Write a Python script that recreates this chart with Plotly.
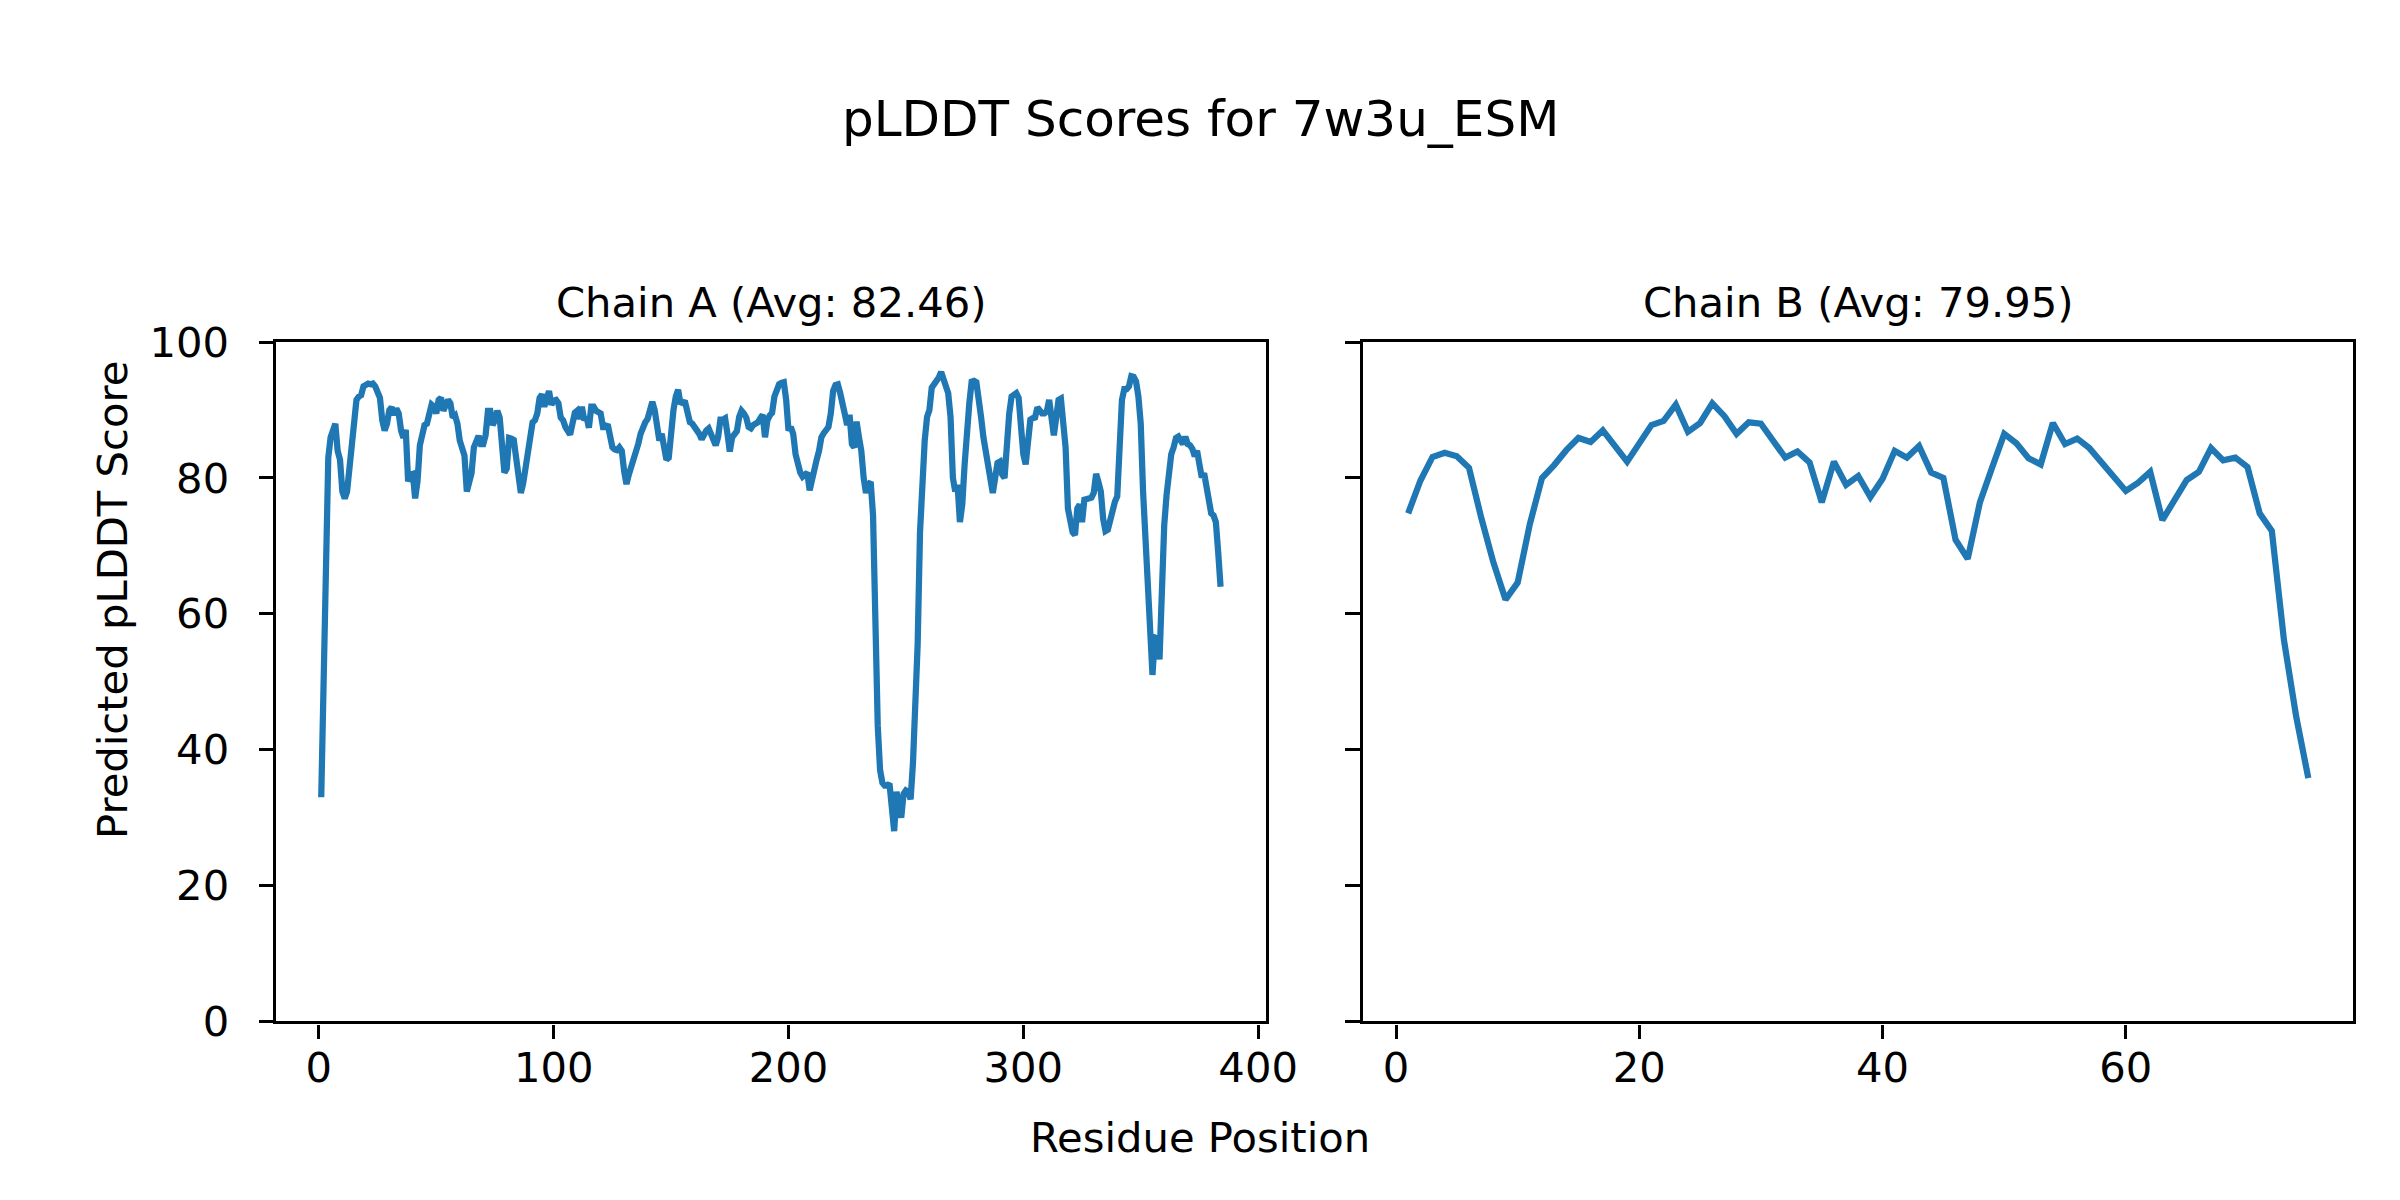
import plotly.graph_objects as go

# ---------------- data ----------------
chain_a_scores = [
    33.0, 51.0, 60.0, 83.0, 86.0, 87.5, 88.0, 84.0, 82.7, 78.0,
    77.0, 78.0, 82.0, 85.5, 87.5, 91.5, 92.0, 92.2, 93.5, 93.8,
    93.9, 93.8, 93.9, 93.5, 92.8, 91.8, 88.5, 87.0, 88.0, 90.0,
    90.4, 89.3, 90.2, 89.5, 87.0, 85.9, 87.1, 79.5, 80.5, 80.6,
    77.0, 79.5, 84.8, 86.2, 87.8, 88.0, 90.0, 90.8, 90.5, 89.5,
    91.5, 91.8, 89.9, 90.5, 91.5, 91.0, 88.9, 89.2, 88.0, 85.5,
    84.4, 83.3, 78.0, 80.0, 80.7, 84.5, 85.5, 86.2, 85.0, 85.0,
    86.3, 89.9, 89.9, 87.8, 88.5, 89.9, 88.9, 83.0, 80.8, 81.4,
    85.9, 85.8, 85.6, 83.0, 80.0, 77.8, 79.2, 81.5, 83.5, 86.0,
    88.2, 88.5, 89.5, 91.8, 92.3, 90.5, 92.0, 92.8, 90.8, 91.4,
    91.5, 91.0, 88.9, 88.5, 87.5, 86.9, 86.4, 88.0, 89.6, 89.9,
    88.7, 90.5, 88.5, 89.0, 87.4, 90.5, 90.5, 89.9, 89.7, 89.5,
    87.5, 87.5, 87.9, 85.8, 84.5, 84.2, 84.1, 84.5, 84.0, 81.0,
    79.1, 80.5, 81.5, 82.9, 83.3, 85.0, 86.5, 87.7, 88.2, 88.7,
    90.2, 91.2, 90.0, 87.5, 85.5, 86.5, 85.0, 82.7, 83.0, 87.0,
    90.0, 92.0, 93.0, 90.9, 91.2, 91.1, 90.0, 88.2, 88.0, 87.6,
    86.9, 86.5, 85.7, 86.5, 87.0, 87.3, 86.5, 85.9, 84.8, 86.0,
    88.6, 88.6, 88.8, 86.5, 83.9, 86.0, 86.5, 86.9, 89.0, 89.9,
    89.5, 88.9, 87.5, 87.3, 87.8, 88.0, 88.2, 88.8, 89.3, 86.0,
    88.5, 89.2, 89.6, 92.0, 93.3, 93.8, 94.0, 94.1, 91.5, 87.0,
    87.5, 86.5, 83.5, 81.5, 80.8, 80.2, 80.5, 80.8, 78.2, 80.0,
    81.5, 82.7, 84.0, 86.0, 86.6, 86.9, 87.5, 89.5, 92.8, 93.7,
    93.8, 92.5, 91.0, 89.8, 87.8, 89.3, 85.0, 84.5, 88.3, 86.0,
    84.0, 80.0, 77.8, 79.1, 79.4, 74.5, 57.2, 43.5, 37.0, 35.1,
    34.7, 34.7, 35.0, 31.0, 28.0, 33.8, 31.5, 30.0, 33.5, 34.0,
    33.8, 32.7, 38.0, 47.0, 55.5, 72.0, 82.0, 85.5, 89.0, 90.0,
    93.3, 93.8, 94.2, 94.8, 95.6, 94.6, 93.8, 92.5, 89.0, 80.0,
    78.0, 79.0, 73.5, 76.1, 82.0, 87.5, 91.0, 94.2, 94.3, 94.1,
    92.0, 89.0, 86.0, 84.0, 81.5, 79.5, 77.8, 80.0, 82.2, 82.4,
    80.5, 80.0, 86.0, 89.5, 92.0, 92.4, 92.5, 91.8, 86.5, 83.5,
    82.0, 84.6, 88.6, 88.8, 88.9, 90.4, 89.8, 89.5, 89.5, 89.8,
    91.5, 88.6, 86.3, 88.9, 91.5, 91.7, 89.0, 84.5, 75.5, 73.5,
    72.0, 71.6, 75.5, 76.1, 73.5, 76.8, 76.9, 77.0, 77.1, 77.8,
    80.6, 79.4, 78.0, 74.0, 72.2, 72.4, 73.8, 75.5, 76.5, 77.3,
    84.0, 91.5, 93.1, 93.1, 93.5, 95.0, 94.9, 94.2, 92.0, 88.0,
    78.0, 71.0, 62.0, 56.0, 51.0, 56.5, 56.3, 53.3, 65.0, 73.0,
    77.5, 81.0, 83.5, 84.5, 85.9, 86.1, 85.5, 85.0, 86.1, 85.0,
    84.8, 84.3, 83.2, 84.0, 82.0, 80.1, 80.7, 79.0, 76.5, 74.8,
    74.5, 73.5, 69.0, 64.0,
]

chain_b_scores = [
    74.8, 79.6, 83.1, 83.7, 83.2, 81.5, 74.2, 67.6, 62.1, 64.6,
    73.2, 80.0, 81.9, 84.1, 85.9, 85.3, 87.0, 84.8, 82.4, 85.1,
    87.8, 88.4, 90.8, 86.8, 88.1, 91.0, 89.1, 86.5, 88.2, 88.0,
    85.4, 83.0, 83.9, 82.3, 76.4, 82.4, 79.0, 80.3, 77.2, 79.9,
    84.0, 83.0, 84.7, 80.8, 80.0, 70.9, 68.1, 76.4, 81.5, 86.5,
    85.1, 82.9, 82.0, 88.1, 85.0, 85.8, 84.4, 82.3, 80.2, 78.1,
    79.3, 80.9, 73.8, 76.6, 79.7, 80.9, 84.4, 82.6, 83.0, 81.6,
    74.8, 72.2, 56.1, 44.9, 35.8,
]

chain_a_positions = list(range(1, len(chain_a_scores) + 1))
chain_b_positions = list(range(1, len(chain_b_scores) + 1))

suptitle = "pLDDT Scores for 7w3u_ESM"
panel_titles = ["Chain A (Avg: 82.46)", "Chain B (Avg: 79.95)"]
x_label = "Residue Position"
y_label = "Predicted pLDDT Score"
x_ticks_a = [0, 100, 200, 300, 400]
x_ticks_b = [0, 20, 40, 60]
y_ticks = [0, 20, 40, 60, 80, 100]

# ---------------- layout geometry (pixels) ----------------
W, H = 2400, 1200
LW = 3.33  # spine width
ax_top, ax_bot = 340.5, 1023.0
axA = (274.6, 1267.2)
axB = (1361.5, 2355.0)

def xdom(a):
    return [(a[0] + LW / 2) / W, (a[1] - LW / 2) / W]

ydom = [1 - (ax_bot - LW / 2) / H, 1 - (ax_top + LW / 2) / H]

FONT = "DejaVu Sans"
BLUE = "#1f77b4"
TICK_FS = 41.7
X_STANDOFF = -7
Y_STANDOFF = 21

fig = go.Figure()
fig.add_trace(go.Scatter(x=chain_a_positions, y=chain_a_scores, mode="lines",
                         line=dict(color=BLUE, width=6.25), xaxis="x", yaxis="y",
                         showlegend=False, hoverinfo="skip"))
fig.add_trace(go.Scatter(x=chain_b_positions, y=chain_b_scores, mode="lines",
                         line=dict(color=BLUE, width=6.25), xaxis="x2", yaxis="y2",
                         showlegend=False, hoverinfo="skip"))

n_a = len(chain_a_scores)
n_b = len(chain_b_scores)
pad_a = 0.05 * (n_a - 1)
pad_b = 0.05 * (n_b - 1)

common_axis = dict(showline=True, linecolor="black", linewidth=LW, mirror=True,
                   ticks="outside", ticklen=14.6, tickwidth=LW, tickcolor="black",
                   showgrid=False, zeroline=False, automargin=False,
                   tickfont=dict(family=FONT, size=TICK_FS, color="black"))

fig.update_layout(
    width=W, height=H, autosize=False,
    margin=dict(l=0, r=0, t=0, b=0, pad=0, autoexpand=False),
    paper_bgcolor="white", plot_bgcolor="white",
    xaxis=dict(domain=xdom(axA), range=[1 - pad_a, n_a + pad_a], tickvals=x_ticks_a,
               anchor="y", ticklabelstandoff=X_STANDOFF, **common_axis),
    yaxis=dict(domain=ydom, range=[0, 100], tickvals=y_ticks, anchor="x",
               ticklabelstandoff=Y_STANDOFF, **common_axis),
    xaxis2=dict(domain=xdom(axB), range=[1 - pad_b, n_b + pad_b], tickvals=x_ticks_b,
                anchor="y2", ticklabelstandoff=X_STANDOFF, **common_axis),
    yaxis2=dict(domain=ydom, range=[0, 100], tickvals=y_ticks, anchor="x2",
                showticklabels=False, **common_axis),
)

annotations = [
    dict(text=suptitle, x=0.5, y=1 - 119 / H, xref="paper", yref="paper",
         xanchor="center", yanchor="middle", showarrow=False,
         font=dict(family=FONT, size=50, color="black")),
    dict(text=panel_titles[0], x=(axA[0] + axA[1]) / 2 / W, y=1 - 302 / H,
         xref="paper", yref="paper", xanchor="center", yanchor="middle",
         showarrow=False, font=dict(family=FONT, size=TICK_FS, color="black")),
    dict(text=panel_titles[1], x=(axB[0] + axB[1]) / 2 / W, y=1 - 302 / H,
         xref="paper", yref="paper", xanchor="center", yanchor="middle",
         showarrow=False, font=dict(family=FONT, size=TICK_FS, color="black")),
    dict(text=x_label, x=0.5, y=1 - 1137 / H, xref="paper", yref="paper",
         xanchor="center", yanchor="middle", showarrow=False,
         font=dict(family=FONT, size=TICK_FS, color="black")),
    dict(text=y_label, x=112 / W, y=0.5, xref="paper", yref="paper",
         xanchor="center", yanchor="middle", textangle=-90, showarrow=False,
         font=dict(family=FONT, size=TICK_FS, color="black")),
]
fig.update_layout(annotations=annotations)

fig.write_html("out.html", config={"displayModeBar": False},
               post_script="document.body.style.margin='0';"
                           "document.body.style.padding='0';"
                           "document.documentElement.style.overflow='hidden';")
